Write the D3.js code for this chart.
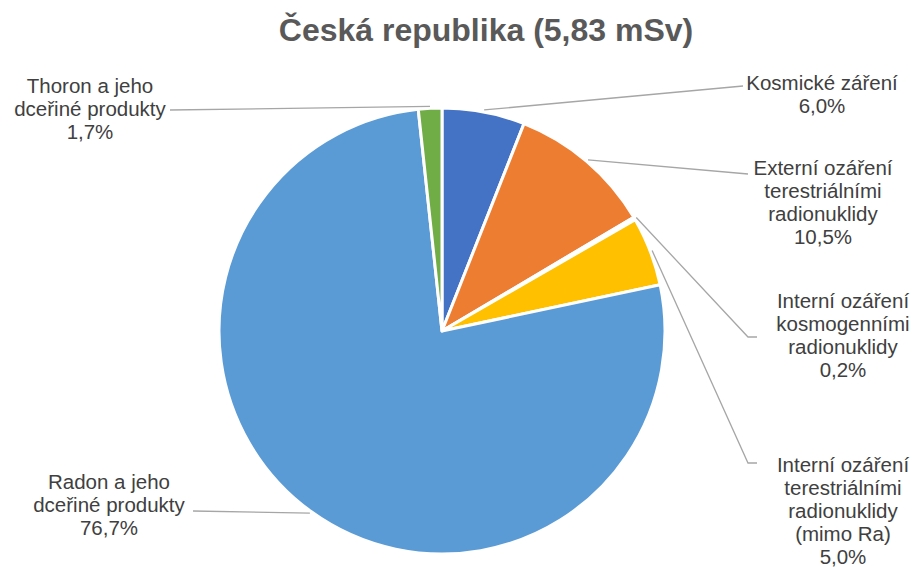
<!DOCTYPE html>
<html>
<head>
<meta charset="utf-8">
<script src="https://cdn.jsdelivr.net/npm/d3@7"></script>
<style>
  html, body { margin: 0; padding: 0; background: #fff; }
  svg { display: block; font-family: "Liberation Sans", Arial, sans-serif; }
</style>
</head>
<body>
<svg id="chart" width="915" height="567"></svg>
<script>
// Složky ozáření obyvatel ČR (podíl na celkové dávce 5,83 mSv)
const categories = [
  "Kosmické záření",
  "Externí ozáření terestriálními radionuklidy",
  "Interní ozáření kosmogenními radionuklidy",
  "Interní ozáření terestriálními radionuklidy (mimo Ra)",
  "Radon a jeho dceřiné produkty",
  "Thoron a jeho dceřiné produkty"
];
const shares = [6.0, 10.5, 0.2, 5.0, 76.7, 1.7];
const colors = ["#4472C4", "#ED7D31", "#A5A5A5", "#FFC000", "#5B9BD5", "#70AD47"];
const labelLines = [
  ["Kosmické záření"],
  ["Externí ozáření", "terestriálními", "radionuklidy"],
  ["Interní ozáření", "kosmogenními", "radionuklidy"],
  ["Interní ozáření", "terestriálními", "radionuklidy", "(mimo Ra)"],
  ["Radon a jeho", "dceřiné produkty"],
  ["Thoron a jeho", "dceřiné produkty"]
];
const title = "Česká republika (5,83 mSv)";

// Layout
const cx = 442, cy = 331, radius = 223;
const lineH = 23;
// label block: centre x, first baseline, leader end point at the label, elbow flag
const labelLayout = [
  { x: 822, y: 90,  ex: 743, ey: 86,  elbow: false },
  { x: 823, y: 175, ex: 748, ey: 174, elbow: false },
  { x: 843, y: 308, ex: 748, ey: 337, elbow: true },
  { x: 843, y: 472, ex: 748, ey: 463, elbow: true },
  { x: 109, y: 489, ex: 193, ey: 511, elbow: false },
  { x: 90,  y: 93,  ex: 170, ey: 110, elbow: false }
];

const fmt = v => v.toFixed(1).replace(".", ",") + "%";

const svg = d3.select("#chart");

svg.append("text")
  .attr("x", 486).attr("y", 41)
  .attr("text-anchor", "middle")
  .attr("font-size", 32).attr("font-weight", "bold")
  .attr("fill", "#595959")
  .text(title);

const data = categories.map((c, i) => ({ name: c, value: shares[i], i }));

const pie = d3.pie().sort(null).value(d => d.value);
const arcs = pie(data);
const arc = d3.arc().innerRadius(0).outerRadius(radius);

const g = svg.append("g").attr("transform", `translate(${cx},${cy})`);

g.selectAll("path.slice")
  .data(arcs)
  .join("path")
  .attr("class", "slice")
  .attr("d", arc)
  .attr("fill", d => colors[d.data.i])
  .attr("stroke", "#fff")
  .attr("stroke-width", 3)
  .attr("stroke-linejoin", "round");

// Leader lines from slice edge (mid angle) to labels
const leaderR = radius + 2;
const leaders = svg.append("g")
  .attr("fill", "none")
  .attr("stroke", "#A6A6A6")
  .attr("stroke-width", 1.3);

arcs.forEach(d => {
  const L = labelLayout[d.data.i];
  const a = (d.startAngle + d.endAngle) / 2;
  const px = cx + leaderR * Math.sin(a);
  const py = cy - leaderR * Math.cos(a);
  const pts = [[px, py], [L.ex, L.ey]];
  if (L.elbow) pts.push([L.ex + 9, L.ey]);
  leaders.append("path").attr("d", d3.line()(pts));
});

// Labels
const labels = svg.append("g")
  .attr("font-size", 20.5)
  .attr("fill", "#404040")
  .attr("text-anchor", "middle");

arcs.forEach(d => {
  const L = labelLayout[d.data.i];
  const lines = labelLines[d.data.i].concat([fmt(d.data.value)]);
  const t = labels.append("text").attr("x", L.x).attr("y", L.y);
  lines.forEach((s, k) => {
    t.append("tspan").attr("x", L.x).attr("y", L.y + k * lineH).text(s);
  });
});
</script>
</body>
</html>
